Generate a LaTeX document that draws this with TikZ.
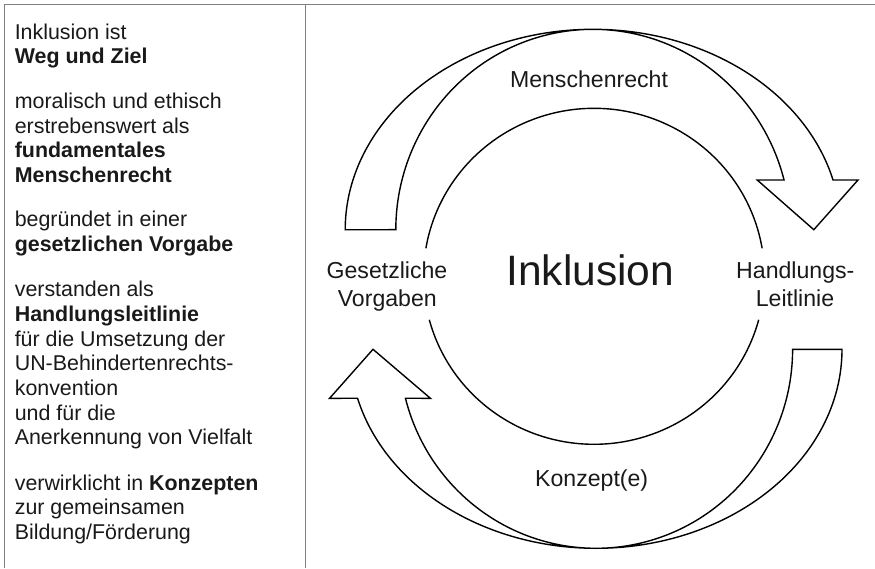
\documentclass[tikz,border=0pt]{standalone}
\usepackage{fontspec}
\setmainfont{Liberation Sans}
\tikzset{
  ltxt/.style={anchor=base west, inner sep=0pt, text=black!90, font=\fontsize{21.4}{25}\selectfont},
  rtxt/.style={anchor=base, inner sep=0pt, text=black!90, font=\fontsize{23.1}{27}\selectfont},
  bigtxt/.style={anchor=base, inner sep=0pt, text=black!90, font=\fontsize{42.5}{48}\selectfont},
  arrowshape/.style={draw=black, line width=1.4pt, fill=white, line join=miter},
  ringline/.style={draw=black, line width=1.4pt},
  framelines/.style={draw=black!50, line width=1pt}
}
\begin{document}
\begin{tikzpicture}[x=1pt,y=-1pt]
\useasboundingbox (0,0) rectangle (875,568);
% frame
\draw[framelines] (4.5,568) -- (4.5,4.7) -- (875,4.7);
\draw[framelines] (305.3,4.7) -- (305.3,568);
% left text
\node[ltxt] (l1) at (14.6,39) {Inklusion ist};
\node[ltxt] (l2) at (14.6,63.5) {\textbf{Weg und Ziel}};
\node[ltxt] (l3) at (14.6,108.3) {moralisch und ethisch};
\node[ltxt] (l4) at (14.6,133.1) {erstrebenswert als};
\node[ltxt] (l5) at (14.6,157.3) {\textbf{fundamentales}};
\node[ltxt] (l6) at (14.6,182.1) {\textbf{Menschenrecht}};
\node[ltxt] (l7) at (14.6,226.6) {begründet in einer};
\node[ltxt] (l8) at (14.6,251) {\textbf{gesetzlichen Vorgabe}};
\node[ltxt] (l9) at (14.6,296.5) {verstanden als};
\node[ltxt] (l10) at (14.6,321.2) {\textbf{Handlungsleitlinie}};
\node[ltxt] (l11) at (14.6,346) {für die Umsetzung der};
\node[ltxt] (l12) at (14.6,370.8) {UN-Behindertenrechts-};
\node[ltxt] (l13) at (14.6,395.3) {konvention};
\node[ltxt] (l14) at (14.6,420) {und für die};
\node[ltxt] (l15) at (14.6,444.8) {Anerkennung von Vielfalt};
\node[ltxt] (l16) at (14.6,490) {verwirklicht in \textbf{Konzepten}};
\node[ltxt] (l17) at (14.6,514.5) {zur gemeinsamen};
\node[ltxt] (l18) at (14.6,539.3) {Bildung/Förderung};
% top arrow
\draw[arrowshape]
  plot[domain=180:345.64, samples=150] ({593+247.8*cos(\x)}, {229.7+200.4*sin(\x)})
  -- (858,180) -- (813.8,229.7) -- (757.2,180)
  -- plot[domain=345.64:180, samples=150] ({593+197.2*cos(\x)}, {229.7+200.4*sin(\x)})
  -- cycle;
% bottom arrow
\draw[arrowshape]
  plot[domain=0:165.75, samples=150] ({596+246*cos(\x)}, {349.3+199*sin(\x)})
  -- (329.6,398.3) -- (373,349.3) -- (430.4,398.3)
  -- plot[domain=165.75:0, samples=150] ({596+196.6*cos(\x)}, {349.3+199*sin(\x)})
  -- cycle;
% inner ring
\draw[ringline] plot[domain=189.6:350.4, samples=150] ({594+170.5*cos(\x)}, {276.3+168*sin(\x)});
\draw[ringline] plot[domain=15:165, samples=150] ({594+170.5*cos(\x)}, {276.3+168*sin(\x)});
% labels
\node[rtxt] (men) at (589,87.3) {Menschenrecht};
\node[rtxt] (kon) at (591.7,486.7) {Konzept(e)};
\node[bigtxt] (ink) at (590.3,285) {Inklusion};
\node[rtxt] (ges1) at (387,278.3) {Gesetzliche};
\node[rtxt] (ges2) at (387.3,306.5) {Vorgaben};
\node[rtxt] (han1) at (795.3,278.3) {Handlungs-};
\node[rtxt] (han2) at (795,306.5) {Leitlinie};
\end{tikzpicture}
\end{document}
